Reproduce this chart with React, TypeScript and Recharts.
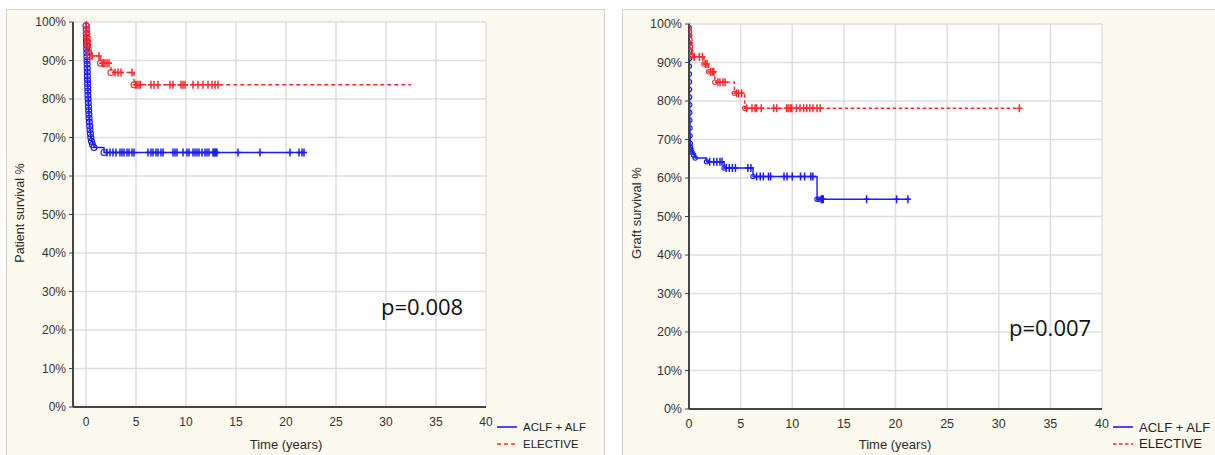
import React from "react";
import { CartesianGrid, Legend, Line, LineChart, XAxis, YAxis } from "recharts";

// 'o' = event (circle), '+' = censored, '' = no marker
type Mark = "o" | "+" | "";
type Pt = [number, number, Mark];

const xTicks = [0, 5, 10, 15, 20, 25, 30, 35, 40];
const yTicks = [0, 10, 20, 30, 40, 50, 60, 70, 80, 90, 100];

const patientAclf: Pt[] = [
  [0, 100, ""], [0.01, 99, "o"], [0.02, 98, "o"], [0.03, 97, "o"], [0.04, 96, "o"], [0.05, 95, "o"],
  [0.06, 94, "o"], [0.07, 93, "o"], [0.08, 92, "o"], [0.09, 91, "o"], [0.1, 90, "o"], [0.11, 89, "o"],
  [0.12, 88, "o"], [0.13, 87, "o"], [0.14, 86, "o"], [0.15, 85, "o"], [0.16, 84, "o"], [0.17, 83, "o"],
  [0.18, 82, "o"], [0.19, 81, "o"], [0.21, 80, "o"], [0.23, 79, "o"], [0.25, 78, "o"], [0.27, 77, "o"],
  [0.29, 76, "o"], [0.31, 75, "o"], [0.34, 74, "o"], [0.37, 73, "o"], [0.4, 72, "o"], [0.44, 71, "o"],
  [0.48, 70, "o"], [0.55, 69, "o"], [0.65, 68.2, "o"], [0.8, 67.4, "o"], [1.8, 66.1, "o"],
  [2.1, 66.1, "+"], [2.4, 66.1, "+"], [2.7, 66.1, "+"], [3.0, 66.1, "+"], [3.4, 66.1, "+"], [3.6, 66.1, "+"],
  [3.8, 66.1, "+"], [4.1, 66.1, "+"], [4.3, 66.1, "+"], [4.6, 66.1, "+"], [4.8, 66.1, "+"], [6.2, 66.1, "+"],
  [6.5, 66.1, "+"], [6.7, 66.1, "+"], [7.0, 66.1, "+"], [7.2, 66.1, "+"], [7.5, 66.1, "+"], [7.7, 66.1, "+"],
  [8.7, 66.1, "+"], [8.9, 66.1, "+"], [9.1, 66.1, "+"], [9.7, 66.1, "+"], [10.1, 66.1, "+"], [10.3, 66.1, "+"],
  [10.7, 66.1, "+"], [10.9, 66.1, "+"], [11.1, 66.1, "+"], [11.3, 66.1, "+"], [11.6, 66.1, "+"], [11.9, 66.1, "+"],
  [12.1, 66.1, "+"], [12.3, 66.1, "+"], [12.7, 66.1, "+"], [12.8, 66.1, "+"], [12.9, 66.1, "+"], [13.0, 66.1, "+"],
  [13.1, 66.1, "+"], [15.2, 66.1, "+"], [17.4, 66.1, "+"], [20.4, 66.1, "+"], [21.3, 66.1, "+"], [21.6, 66.1, "+"],
  [21.8, 66.1, "+"],
];

const patientElective: Pt[] = [
  [0, 100, ""], [0.02, 99, "o"], [0.05, 98, "o"], [0.08, 97, "o"], [0.11, 96, "o"], [0.14, 95, "o"],
  [0.17, 94, "o"], [0.21, 93, "o"], [0.26, 92, "o"], [0.37, 91.2, "o"], [0.6, 91.2, "+"], [1.3, 91.2, "+"],
  [1.45, 89.3, "o"], [1.6, 89.3, "+"], [1.75, 89.3, "+"], [1.9, 89.3, "+"], [2.1, 89.3, "+"], [2.3, 89.3, "+"],
  [2.5, 86.9, "o"], [2.9, 86.9, "+"], [3.2, 86.9, "+"], [3.5, 86.9, "+"], [4.6, 86.9, "+"],
  [4.8, 83.7, "o"], [4.95, 83.7, "+"], [5.1, 83.7, "+"], [5.3, 83.7, "+"], [5.45, 83.7, "+"], [6.5, 83.7, "+"],
  [6.8, 83.7, "+"], [7.2, 83.7, "+"], [8.4, 83.7, "+"], [8.7, 83.7, "+"], [9.5, 83.7, "+"], [9.7, 83.7, "+"],
  [9.9, 83.7, "+"], [10.7, 83.7, "+"], [11.2, 83.7, "+"], [11.7, 83.7, "+"], [12.2, 83.7, "+"], [12.6, 83.7, "+"],
  [12.9, 83.7, "+"], [13.2, 83.7, "+"], [32.5, 83.7, ""],
];

const graftAclf: Pt[] = [
  [0, 100, ""], [0.01, 99, "o"], [0.015, 97, "o"], [0.02, 95, "o"], [0.025, 93, "o"], [0.03, 91, "o"],
  [0.035, 89, "o"], [0.04, 87, "o"], [0.045, 85, "o"], [0.05, 83, "o"], [0.055, 81, "o"], [0.06, 79, "o"],
  [0.07, 77, "o"], [0.08, 75, "o"], [0.09, 73, "o"], [0.1, 71, "o"], [0.12, 69, "o"], [0.15, 68, "o"],
  [0.2, 67.3, "o"], [0.3, 66.6, "o"], [0.45, 66, "o"], [0.6, 65.2, "o"], [1.7, 64.2, "o"],
  [2.0, 64.2, "+"], [2.4, 64.2, "+"], [2.7, 64.2, "+"], [3.0, 64.2, "+"], [3.2, 64.2, "+"],
  [3.4, 62.6, "o"], [3.6, 62.6, "+"], [3.9, 62.6, "+"], [4.2, 62.6, "+"], [4.5, 62.6, "+"], [5.7, 62.6, "+"],
  [6.0, 62.6, "+"], [6.2, 60.4, "o"], [6.55, 60.4, "+"], [6.9, 60.4, "+"], [7.2, 60.4, "+"], [7.7, 60.4, "+"],
  [7.9, 60.4, "+"], [9.2, 60.4, "+"], [9.5, 60.4, "+"], [10.0, 60.4, "+"], [10.8, 60.4, "+"], [11.2, 60.4, "+"],
  [11.8, 60.4, "+"], [12.0, 60.4, "+"], [12.4, 54.5, "o"], [12.6, 54.5, "o"], [12.8, 54.5, "+"],
  [12.9, 54.5, "+"], [13.0, 54.5, "+"], [17.2, 54.5, "+"], [20.1, 54.5, "+"], [21.2, 54.5, "+"],
  [21.4, 54.5, ""],
];

const graftElective: Pt[] = [
  [0, 100, ""], [0.03, 99, "o"], [0.05, 98, "o"], [0.07, 97, "o"], [0.09, 96, "o"], [0.11, 95, "o"],
  [0.13, 94, "o"], [0.16, 93, "o"], [0.2, 92, "o"], [0.25, 91.5, "o"], [0.5, 91.5, "+"], [1.0, 91.5, "+"],
  [1.3, 91.5, "+"], [1.45, 89.6, "o"], [1.6, 89.6, "+"], [1.75, 89.6, "+"], [1.9, 87.6, "o"], [2.1, 87.6, "+"],
  [2.25, 87.6, "+"], [2.4, 87.6, "+"], [2.5, 84.9, "o"], [2.8, 84.9, "+"], [3.0, 84.9, "+"], [3.3, 84.9, "+"],
  [3.5, 84.9, "+"], [4.4, 82, "o"], [4.6, 82, "+"], [4.8, 82, "+"], [5.1, 82, "+"], [5.4, 78.1, "o"],
  [5.6, 78.1, "+"], [6.1, 78.1, "+"], [6.4, 78.1, "+"], [6.55, 78.1, "+"], [7.0, 78.1, "+"], [8.2, 78.1, "+"],
  [8.5, 78.1, "+"], [9.45, 78.1, "+"], [9.6, 78.1, "+"], [9.8, 78.1, "+"], [9.95, 78.1, "+"], [10.4, 78.1, "+"],
  [10.75, 78.1, "+"], [11.1, 78.1, "+"], [11.4, 78.1, "+"], [11.7, 78.1, "+"], [12.0, 78.1, "+"], [12.4, 78.1, "+"],
  [12.7, 78.1, "+"], [32.0, 78.1, "+"],
];

const BLUE = "#1a1aff";
const RED = "#ff2a2a";
const FONT = "'Liberation Sans', Arial, sans-serif";

const rows = (pts: Pt[]) => pts.map(([t, s, m]) => ({ t, s, m }));

function marker(color: string, r: number) {
  return (props: any) => {
    const { cx, cy, payload, index } = props;
    const k = `m${index}`;
    if (payload.m === "o")
      return <circle key={k} cx={cx} cy={cy} r={r} fill="none" stroke={color} strokeWidth={1.1} />;
    if (payload.m === "+")
      return (
        <path key={k} d={`M${cx},${cy - 4}V${cy + 4}M${cx - 3},${cy}H${cx + 3}`} stroke={color} strokeWidth={1.5} fill="none" />
      );
    return <g key={k} />;
  };
}

function legendContent(fontSize: number, dash: string) {
  return () => (
    <div style={{ fontFamily: FONT, fontSize, color: "#222" }}>
      {[
        { name: "ACLF + ALF", color: BLUE, dash: "" },
        { name: "ELECTIVE", color: RED, dash },
      ].map((e) => (
        <div key={e.name} style={{ display: "flex", alignItems: "center", height: 16.5 }}>
          <svg width={20} height={4} style={{ marginRight: 6 }}>
            <line x1={0} y1={2} x2={20} y2={2} stroke={e.color} strokeWidth={1.6} strokeDasharray={e.dash} />
          </svg>
          <span>{e.name}</span>
        </div>
      ))}
    </div>
  );
}

interface PanelProps {
  left: number;
  width: number;
  margin: { top: number; right: number; bottom: number; left: number };
  xMin: number;
  aclf: Pt[];
  elective: Pt[];
  yTitle: string;
  pText: string;
  pPos: { left: number; top: number };
  timePos: number;
  font: number;
  dash: string;
  circleR: number;
}

function Panel(p: PanelProps) {
  return (
    <div
      style={{
        position: "absolute",
        left: p.left,
        top: 9,
        width: p.width + 1,
        height: 460,
        background: "#fcf9ee",
        border: "1px solid #cfcfcf",
      }}
    >
      <LineChart width={p.width} height={445} margin={p.margin} style={{ position: "absolute", left: 0, top: 0 }}>
        <CartesianGrid stroke="#dedede" strokeWidth={1.5} fill="#ffffff" />
        <XAxis
          dataKey="t"
          type="number"
          domain={[p.xMin, 40]}
          ticks={xTicks}
          allowDataOverflow
          height={20}
          tickLine={false}
          tickSize={0}
          tickMargin={10}
          axisLine={{ stroke: "#444", strokeWidth: 2 }}
          tick={{ fill: "#333", fontSize: p.font, fontFamily: FONT }}
        />
        <XAxis
          xAxisId="top"
          orientation="top"
          type="number"
          domain={[p.xMin, 40]}
          ticks={xTicks}
          height={0}
          tickSize={3}
          tickFormatter={() => ""}
          axisLine={{ stroke: "#555", strokeWidth: 1.2 }}
          tickLine={{ stroke: "#555" }}
        />
        <YAxis
          dataKey="s"
          type="number"
          domain={[0, 100]}
          ticks={yTicks}
          width={40}
          tickSize={4}
          tickMargin={3}
          tickFormatter={(v: number) => `${v}%`}
          axisLine={{ stroke: "#444", strokeWidth: 2 }}
          tickLine={{ stroke: "#444" }}
          tick={{ fill: "#333", fontSize: p.font, fontFamily: FONT }}
        />
        <YAxis
          yAxisId="right"
          orientation="right"
          type="number"
          domain={[0, 100]}
          ticks={yTicks}
          width={0}
          tickSize={3}
          tickFormatter={() => ""}
          axisLine={{ stroke: "#555", strokeWidth: 1.2 }}
          tickLine={{ stroke: "#555" }}
        />
        <Line
          data={rows(p.aclf)}
          dataKey="s"
          name="ACLF + ALF"
          type="stepAfter"
          stroke={BLUE}
          strokeWidth={1.4}
          dot={marker(BLUE, p.circleR)}
          activeDot={false}
          isAnimationActive={false}
        />
        <Line
          data={rows(p.elective)}
          dataKey="s"
          name="ELECTIVE"
          type="stepAfter"
          stroke={RED}
          strokeWidth={1.4}
          strokeDasharray={p.dash}
          dot={marker(RED, p.circleR)}
          activeDot={false}
          isAnimationActive={false}
        />
        <Legend
          layout="vertical"
          align="center"
          verticalAlign="middle"
          content={legendContent(p.font === 12 ? 11.5 : 13, p.dash)}
          wrapperStyle={{ left: 490, top: 409, width: "auto", height: "auto" }}
        />
      </LineChart>
      <div
        style={{
          position: "absolute",
          left: 13,
          top: 203,
          transform: "translate(-50%, -50%) rotate(-90deg)",
          whiteSpace: "nowrap",
          fontFamily: FONT,
          fontSize: p.font === 12 ? 12.5 : 13,
          color: "#2b2b2b",
        }}
      >
        {p.yTitle}
      </div>
      <div
        style={{
          position: "absolute",
          left: p.timePos,
          top: 434,
          transform: "translate(-50%, -50%)",
          whiteSpace: "nowrap",
          fontFamily: FONT,
          fontSize: 13,
          color: "#2b2b2b",
        }}
      >
        Time (years)
      </div>
      <div
        style={{
          position: "absolute",
          left: p.pPos.left,
          top: p.pPos.top,
          fontFamily: "'Open Sans', 'Noto Sans', sans-serif",
          fontSize: 22,
          lineHeight: "30px",
          color: "#111",
          whiteSpace: "nowrap",
        }}
      >
        {p.pText}
      </div>
    </div>
  );
}

export default function App() {
  return (
    <div style={{ position: "absolute", left: 0, top: 0, width: 1215, height: 455, background: "#fff", overflow: "hidden" }}>
      <Panel
        left={6}
        width={596}
        margin={{ top: 12, right: 117, bottom: 28, left: 26 }}
        xMin={-1.3}
        aclf={patientAclf}
        elective={patientElective}
        yTitle="Patient survival %"
        pText="p=0.008"
        pPos={{ left: 374, top: 281 }}
        timePos={279}
        font={12}
        dash="4 3"
        circleR={3}
      />
      <Panel
        left={622}
        width={592}
        margin={{ top: 14, right: 113, bottom: 26, left: 26 }}
        xMin={0}
        aclf={graftAclf}
        elective={graftElective}
        yTitle="Graft survival %"
        pText="p=0.007"
        pPos={{ left: 386, top: 302 }}
        timePos={272}
        font={12.5}
        dash="3.5 2.5"
        circleR={2.2}
      />
    </div>
  );
}
